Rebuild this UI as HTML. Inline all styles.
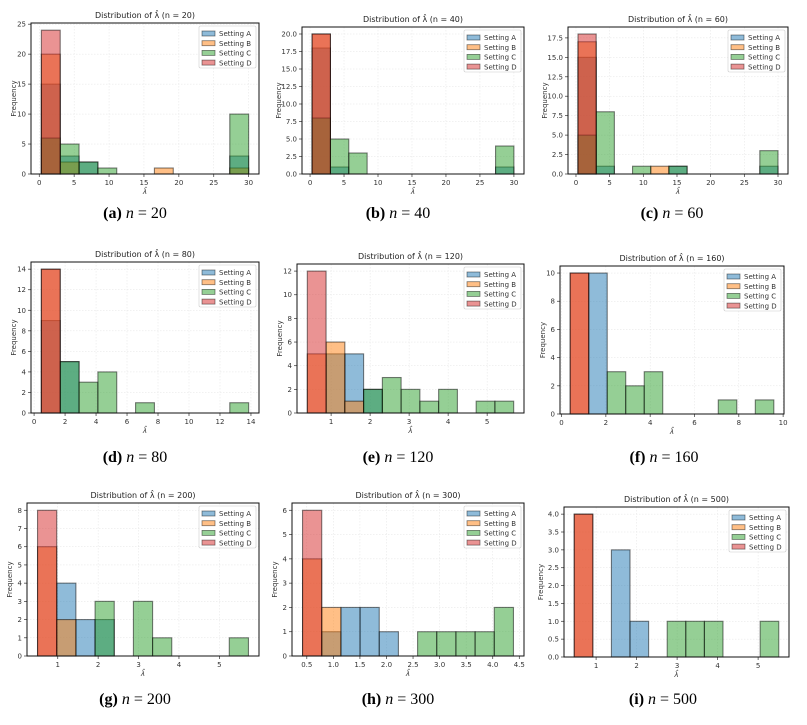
<!DOCTYPE html>
<html><head><meta charset="utf-8"><style>
body{margin:0;background:#fff;width:807px;height:725px;overflow:hidden}
svg{display:block}
</style></head><body>
<svg id="fig" width="807" height="725" xmlns="http://www.w3.org/2000/svg"></svg>
<script>
const sampleSizes = [20, 40, 60, 80, 120, 160, 200, 300, 500];
const panelLetters = ['a','b','c','d','e','f','g','h','i'];
const binLo = [0.3, 0.3, 0.3, 0.47, 0.39, 0.39, 0.5, 0.42, 0.46];
const binHi = [30, 30, 30, 13.85, 5.68, 9.58, 5.72, 4.39, 5.51];
const seriesA = [
 [15,3,2,0,0,0,0,0,0,0,3],[18,1,0,0,0,0,0,0,0,0,1],[15,1,0,0,0,1,0,0,0,0,1],
 [9,5,0,0,0,0,0,0,0,0,0],[0,5,5,2,0,0,0,0,0,0,0],[0,10,0,0,0,0,0,0,0,0,0],
 [0,4,2,2,0,0,0,0,0,0,0],[0,1,2,2,1,0,0,0,0,0,0],[0,0,3,1,0,0,0,0,0,0,0]];
const seriesB = [
 [20,2,0,0,0,0,1,0,0,0,1],[20,0,0,0,0,0,0,0,0,0,0],[17,0,0,0,1,0,0,0,0,0,0],
 [14,0,0,0,0,0,0,0,0,0,0],[5,6,1,0,0,0,0,0,0,0,0],[10,0,0,0,0,0,0,0,0,0,0],
 [6,2,0,0,0,0,0,0,0,0,0],[4,2,0,0,0,0,0,0,0,0,0],[4,0,0,0,0,0,0,0,0,0,0]];
const seriesC = [
 [6,5,2,1,0,0,0,0,0,0,10],[8,5,3,0,0,0,0,0,0,0,4],[5,8,0,1,0,1,0,0,0,0,3],
 [0,5,3,4,0,1,0,0,0,0,1],[0,0,0,2,3,2,1,2,0,1,1],[0,0,3,2,3,0,0,0,1,0,1],
 [0,0,0,3,0,3,1,0,0,0,1],[0,0,0,0,0,0,1,1,1,1,2],[0,0,0,0,0,1,1,1,0,0,1]];
const seriesD = [
 [24,0,0,0,0,0,0,0,0,0,0],[20,0,0,0,0,0,0,0,0,0,0],[18,0,0,0,0,0,0,0,0,0,0],
 [14,0,0,0,0,0,0,0,0,0,0],[12,0,0,0,0,0,0,0,0,0,0],[10,0,0,0,0,0,0,0,0,0,0],
 [8,0,0,0,0,0,0,0,0,0,0],[6,0,0,0,0,0,0,0,0,0,0],[4,0,0,0,0,0,0,0,0,0,0]];
const seriesNames = ['Setting A','Setting B','Setting C','Setting D'];
const xTickStep = [5,5,5,2,1,2,1,0.5,1];
const yTickStep = [5,2.5,2.5,2,2,2,1,1,0.5];
const yTickDecimals = [0,1,1,0,0,0,0,0,1];
const xTickDecimals = [0,0,0,0,0,0,0,1,0];

const colors = ['#1f77b4','#ff7f0e','#2ca02c','#d62728'];
const boxes = [[31,23,259,174],[302,27,524,174],[568,27,788,174],
 [31,262,259,413],[297,264,524,413],[560,266,784,414],
 [27,503,259,656],[292,503,524,656],[564,507,789,657]];
const captionPos = [[135,218],[398,218],[672,218],[135,462],[398,462],[664,462],[135,704],[398,704],[663,704]];

const NS='http://www.w3.org/2000/svg';
const fig=document.getElementById('fig');
function mk(tag,attrs,parent){const e=document.createElementNS(NS,tag);for(const k in attrs)e.setAttribute(k,attrs[k]);(parent||fig).appendChild(e);return e;}

for(let p=0;p<9;p++){
  const [L,T,R,B]=boxes[p];
  const g=mk('g',{});
  
  
  const lo=binLo[p],hi=binHi[p],span=hi-lo;
  const x0=lo-0.05*span,x1=hi+0.05*span;
  const all=[seriesA[p],seriesB[p],seriesC[p],seriesD[p]];
  let ymax=0;all.forEach(s=>s.forEach(v=>{if(v>ymax)ymax=v;}));
  const y1=ymax*1.05;
  const xs=v=>L+(v-x0)/(x1-x0)*(R-L);
  const ys=v=>B-v/y1*(B-T);
  const xst=xTickStep[p];
  for(let t=Math.ceil(x0/xst)*xst;t<=x1+1e-9;t+=xst){
    const X=xs(t);
    const gl=mk('line',{x1:X,x2:X,y1:T,y2:B,stroke:'#e3e3e3','stroke-width':0.5,'stroke-dasharray':'1.5,1.5'},g);
    
    
    mk('line',{x1:X,x2:X,y1:B,y2:B+3,stroke:'#333','stroke-width':0.7},g);
    const tx=mk('text',{x:X,y:B+11,'font-size':7,'text-anchor':'middle',fill:'#333','font-family':'DejaVu Sans, Liberation Sans, sans-serif'},g);
    tx.textContent=(+t.toFixed(6)).toFixed(xTickDecimals[p]);
    
    
  }
  const yst=yTickStep[p];
  for(let t=0;t<=y1+1e-9;t+=yst){
    const Y=ys(t);
    const gl=mk('line',{x1:L,x2:R,y1:Y,y2:Y,stroke:'#e3e3e3','stroke-width':0.5,'stroke-dasharray':'1.5,1.5'},g);
    
    
    mk('line',{x1:L-3,x2:L,y1:Y,y2:Y,stroke:'#333','stroke-width':0.7},g);
    const tx=mk('text',{x:L-5,y:Y+2.5,'font-size':7,'text-anchor':'end',fill:'#333','font-family':'DejaVu Sans, Liberation Sans, sans-serif'},g);
    tx.textContent=t.toFixed(yTickDecimals[p]);
    
    
  }
  const nb=all[0].length,w=span/nb;
  all.forEach((s,si)=>{
    s.forEach((v,bi)=>{
      if(v<=0)return;
      const a=lo+bi*w,b=a+w;
      const r=mk('rect',{x:xs(a),y:ys(v),width:xs(b)-xs(a),height:ys(0)-ys(v),fill:colors[si],'fill-opacity':0.5,stroke:'#000','stroke-opacity':0.5,'stroke-width':1.1},g);
      
      
    });
  });
  mk('rect',{x:L,y:T,width:R-L,height:B-T,fill:'none',stroke:'#111','stroke-width':1},g);
  const ti=mk('text',{x:(L+R)/2,y:T-5,'font-size':8,'text-anchor':'middle',fill:'#222','font-family':'DejaVu Sans, Liberation Sans, sans-serif'},g);
  ti.textContent='Distribution of λ̂ (n = '+sampleSizes[p]+')';
  
  
  const xl=mk('text',{x:(L+R)/2,y:B+20,'font-size':7,'text-anchor':'middle',fill:'#333','font-family':'DejaVu Sans, Liberation Sans, sans-serif','font-style':'italic'},g);
  xl.textContent='λ̂';
  
  
  const yl=mk('text',{x:0,y:0,'font-size':7,'text-anchor':'middle',fill:'#333','font-family':'DejaVu Sans, Liberation Sans, sans-serif',transform:'translate('+(L-(yTickDecimals[p]?21:15))+','+((T+B)/2)+') rotate(-90)'},g);
  yl.textContent='Frequency';
  
  
  const lw=57,lh=42,lx=R-lw-3,ly=T+3;
  const lg=mk('g',{},g);
  
  
  mk('rect',{x:lx,y:ly,width:lw,height:lh,fill:'#fff','fill-opacity':0.85,stroke:'#ccc','stroke-width':0.6,rx:1.5},lg);
  seriesNames.forEach((nm,si)=>{
    const ey=ly+4+si*9.7;
    const e=mk('g',{},lg);
    
    
    mk('rect',{x:lx+3,y:ey+1,width:13,height:5,fill:colors[si],'fill-opacity':0.5,stroke:'#000','stroke-opacity':0.5,'stroke-width':0.8},e);
    const t=mk('text',{x:lx+20,y:ey+6.2,'font-size':7,fill:'#333','font-family':'DejaVu Sans, Liberation Sans, sans-serif'},e);
    t.textContent=nm;
  });
  const [cx,cy]=captionPos[p];
  const c=mk('text',{x:cx,y:cy,'font-size':16,'text-anchor':'middle',fill:'#000','font-family':'Liberation Serif, serif'});
  
  
  const b1=mk('tspan',{'font-weight':'bold'},c);b1.textContent='('+panelLetters[p]+')';
  const b2=mk('tspan',{'font-style':'italic'},c);b2.textContent=' n';
  const b3=mk('tspan',{},c);b3.textContent=' = '+sampleSizes[p];
}
</script>
</body></html>
